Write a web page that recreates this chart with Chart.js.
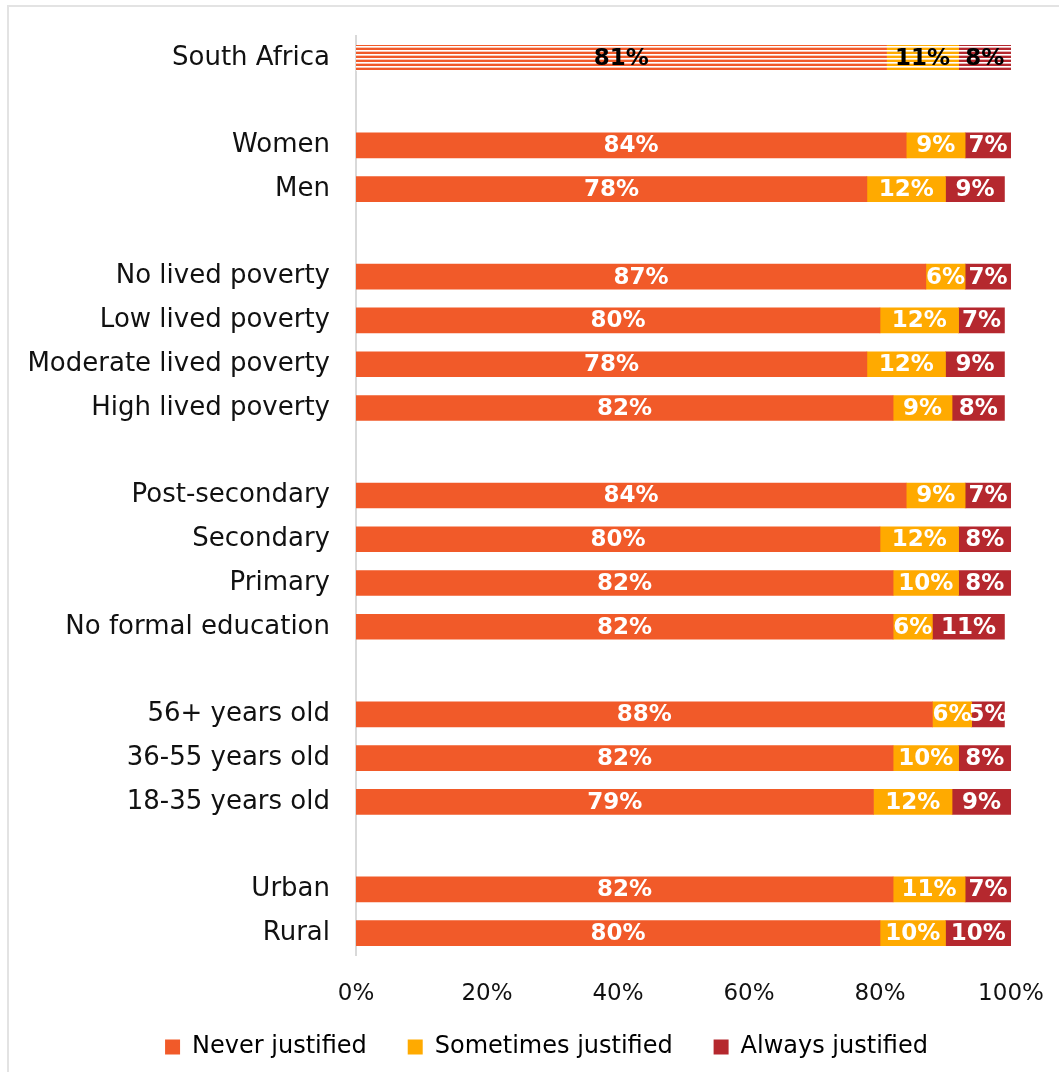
<!DOCTYPE html>
<html>
<head>
<meta charset="utf-8">
<script src="https://cdn.jsdelivr.net/npm/chart.js@4/dist/chart.umd.min.js"></script>
<style>
  html, body { margin: 0; padding: 0; background: #fff; overflow: hidden; }
  #marco { position: absolute; left: 7px; top: 5px; width: 1050px; height: 1065px;
           border-left: 2px solid #e3e3e3; border-top: 2px solid #e3e3e3; }
  #caja { position: absolute; left: 0; top: 0; width: 1064px; height: 1077px; }
</style>
</head>
<body>
<div id="marco"></div>
<div id="caja"><canvas id="grafica"></canvas></div>
<script>
let categorias = ["South Africa", "", "Women", "Men", "",
    "No lived poverty", "Low lived poverty", "Moderate lived poverty", "High lived poverty", "",
    "Post-secondary", "Secondary", "Primary", "No formal education", "",
    "56+ years old", "36-55 years old", "18-35 years old", "",
    "Urban", "Rural"];

let nunca =    [81, null, 84, 78, null, 87, 80, 78, 82, null, 84, 80, 82, 82, null, 88, 82, 79, null, 82, 80];
let aveces =   [11, null, 9, 12, null, 6, 12, 12, 9, null, 9, 12, 10, 6, null, 6, 10, 12, null, 11, 10];
let siempre =  [8, null, 7, 9, null, 7, 7, 9, 8, null, 7, 8, 8, 11, null, 5, 8, 9, null, 7, 10];

let ticksX = [0, 20, 40, 60, 80, 100];

let colores = ["#F15A29", "#FFAA00", "#B5282E"];
let fuente = "DejaVu Sans";

function rayado(color) {
    let c = document.createElement("canvas");
    c.width = 4; c.height = 4;
    let g = c.getContext("2d");
    g.fillStyle = "#ffffff";
    g.fillRect(0, 0, 4, 4);
    g.fillStyle = color;
    g.fillRect(0, 0, 4, 2);
    g.globalAlpha = 0.35;
    g.fillRect(0, 3, 4, 1);
    return g.createPattern(c, "repeat");
}

function fondo(i) {
    let patron = rayado(colores[i]);
    return ctx => ctx.dataIndex === 0 ? patron : colores[i];
}

const etiquetas = {
    id: "etiquetas",
    afterLayout(chart) {
        // leyenda algo a la derecha, como en el original
        chart.legend.left += 82;
    },
    afterDatasetsDraw(chart) {
        let ctx = chart.ctx;
        ctx.save();
        ctx.font = "bold 23px '" + fuente + "'";
        ctx.textAlign = "center";
        ctx.textBaseline = "middle";
        chart.data.datasets.forEach((ds, d) => {
            chart.getDatasetMeta(d).data.forEach((el, i) => {
                let v = ds.data[i];
                if (v === null) return;
                ctx.fillStyle = i === 0 ? "#000" : "#fff";
                ctx.fillText(v + "%", (el.x + el.base) / 2, el.y + 1);
            });
        });
        ctx.restore();
    }
};

let ctx = document.getElementById("grafica").getContext("2d");
new Chart(ctx, {
    type: "bar",
    data: {
        labels: categorias,
        datasets: [
            { label: "Never justified", data: nunca, backgroundColor: fondo(0) },
            { label: "Sometimes justified", data: aveces, backgroundColor: fondo(1) },
            { label: "Always justified", data: siempre, backgroundColor: fondo(2) }
        ]
    },
    options: {
        indexAxis: "y",
        responsive: true,
        maintainAspectRatio: false,
        animation: false,
        barThickness: 25,
        layout: { padding: { top: 36, right: 53, left: 0, bottom: 8 } },
        scales: {
            x: {
                stacked: true,
                min: 0,
                max: 100,
                afterBuildTicks: s => { s.ticks = ticksX.map(v => ({ value: v })); },
                afterFit: s => { s.height = 62; s.paddingLeft = 0; s.paddingRight = 0; },
                grid: { display: false, drawTicks: false },
                border: { display: false },
                ticks: {
                    padding: 25,
                    color: "#111",
                    font: { family: fuente, size: 23 },
                    callback: v => v + "%"
                }
            },
            y: {
                stacked: true,
                grid: { display: false, drawTicks: false },
                border: { display: true, color: "#d9d9d9", width: 2 },
                afterFit: s => { s.width = 356; s.paddingTop = 0; s.paddingBottom = 0; },
                ticks: {
                    padding: 26,
                    color: "#111",
                    autoSkip: false,
                    font: { family: fuente, size: 26 }
                }
            }
        },
        plugins: {
            legend: {
                position: "bottom",
                labels: {
                    boxWidth: 15,
                    boxHeight: 15,
                    padding: 18,
                    color: "#111",
                    font: { family: fuente, size: 24 },
                    generateLabels: chart => chart.data.datasets.map((ds, i) => ({
                        text: i < 2 ? ds.label + "   " : ds.label,
                        fillStyle: colores[i],
                        strokeStyle: colores[i],
                        lineWidth: 0,
                        hidden: false,
                        datasetIndex: i
                    }))
                }
            },
            tooltip: { enabled: false }
        }
    },
    plugins: [etiquetas]
});
</script>
</body>
</html>
